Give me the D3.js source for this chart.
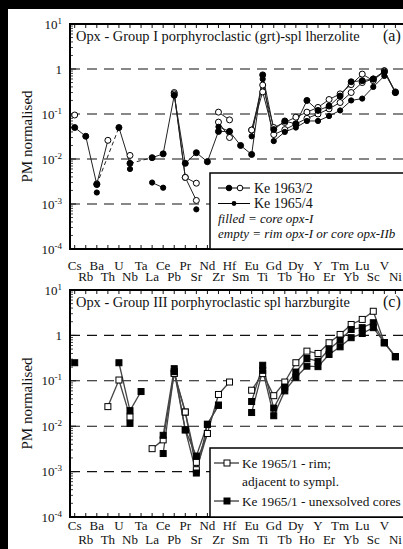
<!DOCTYPE html>
<html>
<head>
<meta charset="utf-8">
<script src="https://cdn.jsdelivr.net/npm/d3@7"></script>
<style>
  html, body { margin: 0; padding: 0; background: #000; }
  svg { display: block; }
  text { font-family: "Liberation Serif", "DejaVu Serif", serif; fill: #111; }
</style>
</head>
<body>
<svg id="chart" width="403" height="549"></svg>
<script>
// Trace elements, primitive-mantle normalised order
const categories = ["Cs","Rb","Ba","Th","U","Nb","Ta","La","Ce","Pb","Pr","Sr","Nd","Zr","Hf","Sm","Eu","Ti","Gd","Tb","Dy","Ho","Y","Er","Tm","Yb","Lu","Sc","V","Ni"];
const yTickExponents = [1, 0, -1, -2, -3, -4];
const gridValues = [1, 0.1, 0.01, 0.001];

// Group I lherzolite, Ke 1963/2 and Ke 1965/4
const ke19632Core = [0.05,0.032,0.0027,null,0.05,0.008,null,0.0107,0.013,0.26,0.008,0.0138,0.0087,0.041,0.041,0.020,0.0126,0.74,0.045,0.07,0.06,0.2,0.12,0.15,0.25,0.52,0.55,0.6,0.85,0.3];
const ke19632Rim = [0.095,null,0.0028,0.026,null,0.012,null,null,null,0.30,0.0039,0.0029,null,0.11,0.074,null,0.044,0.44,0.05,0.065,0.085,0.11,0.14,0.21,0.28,0.45,0.77,0.55,0.92,0.31];
const ke19632Rim2 = [null,null,null,null,null,null,null,null,null,0.28,0.0039,0.0012,null,0.066,0.03,null,0.044,0.31,0.035,0.045,0.06,0.08,0.1,0.13,0.18,0.3,0.5,0.6,0.9,0.3];
const ke19654Core = [null,null,0.0018,null,null,0.006,null,0.003,0.0023,null,null,0.00076,null,0.052,0.041,null,0.032,0.6,0.025,0.04,0.05,0.07,0.07,0.09,0.12,0.2,0.22,0.4,0.7,null];

// Group III harzburgite, Ke 1965/1
const ke19651Rim = [null,null,null,0.027,0.104,0.016,null,0.0032,0.005,0.146,0.0205,0.0016,0.0069,0.05,0.094,null,0.062,0.144,0.047,0.094,0.25,0.45,0.40,0.69,1.05,1.74,2.25,3.4,0.69,0.34];
const ke19651Rim2 = [null,null,null,null,null,null,null,null,null,0.146,0.0205,0.0011,0.0069,null,null,null,null,null,null,null,null,null,null,null,null,null,null,null,null,null];
const ke19651Core = [0.25,null,null,null,0.25,0.022,0.058,null,0.0063,0.185,0.0083,0.0022,0.011,0.029,null,null,0.035,0.22,0.025,0.073,0.156,0.31,0.27,0.49,0.79,1.35,1.48,1.9,0.69,0.34];
const ke19651Core2 = [null,null,null,null,null,0.0115,null,null,0.0025,0.16,0.0083,0.00093,0.011,0.029,null,null,0.020,0.17,0.017,0.06,0.12,0.21,0.205,0.38,0.56,0.89,1.1,1.48,0.69,0.34];

const panels = [
  {
    top: 24, bottom: 249, labelRows: [20.5, 32], lineColor: "#222", lineWidth: 1,
    title: "Opx - Group I porphyroclastic (grt)-spl lherzolite", tag: "(a)",
    series: [
      { values: ke19632Rim, marker: "circle", fill: "#fff", r: 3, bridge: false },
      { values: ke19632Rim2, marker: "circle", fill: "#fff", r: 3, bridge: false },
      { values: ke19654Core, marker: "circle", fill: "#000", r: 2.6, bridge: false },
      { values: ke19632Core, marker: "circle", fill: "#000", r: 3, bridge: true }
    ],
    legend: { top: 173 }
  },
  {
    top: 290, bottom: 517, labelRows: [12.5, 27], lineColor: "#444", lineWidth: 1.3,
    title: "Opx - Group III porphyroclastic spl harzburgite", tag: "(c)",
    series: [
      { values: ke19651Rim, marker: "square", fill: "#fff", r: 3, bridge: false },
      { values: ke19651Rim2, marker: "square", fill: "#fff", r: 3, bridge: false },
      { values: ke19651Core2, marker: "square", fill: "#000", r: 3, bridge: false },
      { values: ke19651Core, marker: "square", fill: "#000", r: 3, bridge: false }
    ],
    legend: { top: 448 }
  }
];

const svg = d3.select("#chart");
// white sheet on black scan border
svg.append("rect").attr("x", 8).attr("y", 9).attr("width", 395).attr("height", 540).attr("fill", "#fff");

const plotLeft = 70, plotRight = 405;
const x = d3.scalePoint().domain(categories).range([74.7, 395.4]);

function drawPanel(p, idx) {
  const g = svg.append("g");
  const y = d3.scaleLog().domain([1e-4, 10]).range([p.bottom, p.top]);

  // dashed reference lines
  g.selectAll("line.grid").data(gridValues).join("line")
    .attr("x1", plotLeft).attr("x2", plotRight)
    .attr("y1", d => y(d)).attr("y2", d => y(d))
    .attr("stroke", "#111").attr("stroke-width", 1.1)
    .attr("stroke-dasharray", "10,7");

  // left axis minor ticks (inward)
  const minor = [];
  for (let e = -4; e < 1; e++) for (let m = 2; m <= 9; m++) minor.push(m * Math.pow(10, e));
  g.selectAll("line.minor").data(minor).join("line")
    .attr("x1", plotLeft).attr("x2", plotLeft + 3)
    .attr("y1", d => y(d)).attr("y2", d => y(d))
    .attr("stroke", "#111").attr("stroke-width", 0.8);
  g.selectAll("line.major").data(yTickExponents).join("line")
    .attr("x1", plotLeft).attr("x2", plotLeft + 6)
    .attr("y1", d => y(Math.pow(10, d))).attr("y2", d => y(Math.pow(10, d)))
    .attr("stroke", "#111").attr("stroke-width", 1);

  // category ticks on bottom and top frame
  g.selectAll("line.xb").data(categories).join("line")
    .attr("x1", d => x(d)).attr("x2", d => x(d))
    .attr("y1", p.bottom).attr("y2", p.bottom - 4)
    .attr("stroke", "#111").attr("stroke-width", 1);
  g.selectAll("line.xt").data(categories).join("line")
    .attr("x1", d => x(d)).attr("x2", d => x(d))
    .attr("y1", p.top).attr("y2", p.top + 4)
    .attr("stroke", "#111").attr("stroke-width", 1);

  // y tick labels
  const lab = g.selectAll("text.ylab").data(yTickExponents).join("text")
    .attr("x", 62).attr("y", d => y(Math.pow(10, d)) + 4.5)
    .attr("text-anchor", "end").attr("font-size", 13);
  lab.each(function(d) {
    const t = d3.select(this);
    if (d === 0) { t.text("1"); return; }
    t.append("tspan").text("10");
    t.append("tspan").attr("dy", -5).attr("font-size", 9).text(String(d));
  });

  // y axis title
  g.append("text")
    .attr("transform", `translate(32,${(p.top + p.bottom) / 2}) rotate(-90)`)
    .attr("text-anchor", "middle").attr("font-size", 15)
    .text("PM normalised");

  // x labels in two staggered rows
  g.selectAll("text.xlab").data(categories).join("text")
    .attr("x", d => x(d))
    .attr("y", (d, i) => p.bottom + p.labelRows[i % 2])
    .attr("text-anchor", "middle").attr("font-size", 13)
    .text(d => d);

  // series lines (dashed where a missing element is bridged)
  p.series.forEach(s => {
    const pts = s.values.map((v, i) => v == null ? null : [x(categories[i]), y(v), i]).filter(Boolean);
    for (let k = 1; k < pts.length; k++) {
      const a = pts[k - 1], b = pts[k];
      const gap = b[2] - a[2];
      if (gap > 1 && !s.bridge) continue;
      g.append("line")
        .attr("x1", a[0]).attr("y1", a[1]).attr("x2", b[0]).attr("y2", b[1])
        .attr("stroke", p.lineColor).attr("stroke-width", p.lineWidth)
        .attr("stroke-dasharray", gap > 1 ? "4,3" : null);
    }
  });
  // series markers
  p.series.forEach(s => {
    const pts = s.values.map((v, i) => v == null ? null : [x(categories[i]), y(v)]).filter(Boolean);
    if (s.marker === "circle") {
      g.selectAll(null).data(pts).join("circle")
        .attr("cx", d => d[0]).attr("cy", d => d[1]).attr("r", s.r)
        .attr("fill", s.fill).attr("stroke", "#000").attr("stroke-width", 1);
    } else {
      g.selectAll(null).data(pts).join("rect")
        .attr("x", d => d[0] - s.r).attr("y", d => d[1] - s.r)
        .attr("width", 2 * s.r).attr("height", 2 * s.r)
        .attr("fill", s.fill).attr("stroke", "#000").attr("stroke-width", 1);
    }
  });

  // frame
  g.append("rect").attr("x", plotLeft).attr("y", p.top)
    .attr("width", plotRight - plotLeft).attr("height", p.bottom - p.top)
    .attr("fill", "none").attr("stroke", "#000").attr("stroke-width", 2);

  // title
  g.append("text").attr("x", 76).attr("y", p.top + 17).attr("font-size", 14.4).text(p.title);
  g.append("text").attr("x", 383).attr("y", p.top + 17).attr("font-size", 16).text(p.tag);

  // legend box
  const lg = g.append("g");
  lg.append("rect").attr("x", 210).attr("y", p.legend.top)
    .attr("width", 200).attr("height", p.bottom - p.legend.top)
    .attr("fill", "#fff").attr("stroke", "#000").attr("stroke-width", 1.5);
  if (idx === 0) {
    const r1 = p.legend.top + 15, r2 = p.legend.top + 30.5;
    lg.append("line").attr("x1", 218).attr("x2", 250).attr("y1", r1).attr("y2", r1).attr("stroke", "#000");
    lg.append("circle").attr("cx", 229).attr("cy", r1).attr("r", 2.8).attr("fill", "#000").attr("stroke", "#000");
    lg.append("circle").attr("cx", 240).attr("cy", r1).attr("r", 2.8).attr("fill", "#fff").attr("stroke", "#000");
    lg.append("text").attr("x", 254).attr("y", r1 + 4.5).attr("font-size", 14).text("Ke 1963/2");
    lg.append("line").attr("x1", 218).attr("x2", 250).attr("y1", r2).attr("y2", r2).attr("stroke", "#000");
    lg.append("circle").attr("cx", 234).attr("cy", r2).attr("r", 2.4).attr("fill", "#000");
    lg.append("text").attr("x", 254).attr("y", r2 + 4.5).attr("font-size", 14).text("Ke 1965/4");
    lg.append("text").attr("x", 218).attr("y", p.legend.top + 50).attr("font-size", 13)
      .attr("font-style", "italic").text("filled = core opx-I");
    lg.append("text").attr("x", 218).attr("y", p.legend.top + 65).attr("font-size", 13)
      .attr("font-style", "italic").text("empty = rim opx-I or core opx-IIb");
  } else {
    const r1 = p.legend.top + 15, r2 = p.legend.top + 53;
    lg.append("line").attr("x1", 214).attr("x2", 239).attr("y1", r1).attr("y2", r1).attr("stroke", "#000");
    lg.append("rect").attr("x", 224).attr("y", r1 - 3).attr("width", 6).attr("height", 6).attr("fill", "#fff").attr("stroke", "#000");
    lg.append("text").attr("x", 242).attr("y", r1 + 4.5).attr("font-size", 13.3).text("Ke 1965/1 - rim;");
    lg.append("text").attr("x", 242).attr("y", r1 + 23).attr("font-size", 13.3).text("adjacent to sympl.");
    lg.append("line").attr("x1", 214).attr("x2", 239).attr("y1", r2).attr("y2", r2).attr("stroke", "#000");
    lg.append("rect").attr("x", 224).attr("y", r2 - 3).attr("width", 6).attr("height", 6).attr("fill", "#000").attr("stroke", "#000");
    lg.append("text").attr("x", 242).attr("y", r2 + 4.5).attr("font-size", 13.3).text("Ke 1965/1 - unexsolved cores");
  }
}

panels.forEach(drawPanel);
</script>
</body>
</html>
